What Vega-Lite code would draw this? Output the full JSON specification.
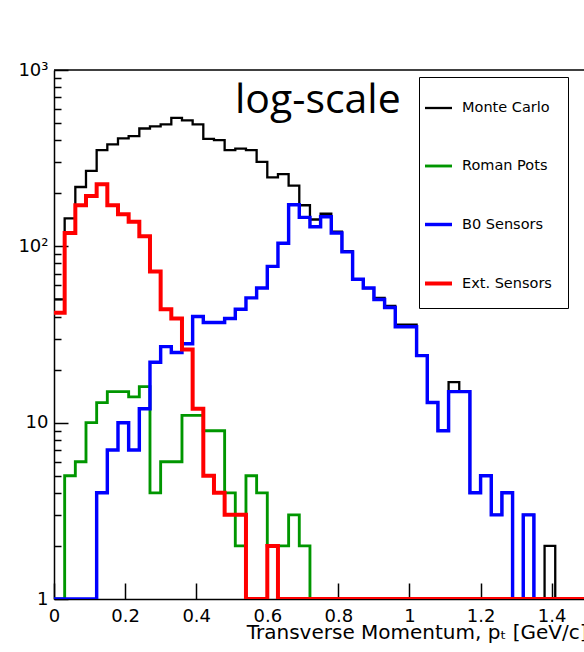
{
  "$schema": "https://vega.github.io/schema/vega-lite/v6.json",
  "autosize": {"type": "none"},
  "padding": {"left": 54, "top": 70, "right": 0, "bottom": 53},
  "width": 530,
  "height": 529,
  "background": "white",
  "config": {"view": {"stroke": null}, "font": "DejaVu Sans"},
  "datasets": {
    "hist": [
      {"s":"Monte Carlo","x":0,"n":50},{"s":"Monte Carlo","x":0.03,"n":144},{"s":"Monte Carlo","x":0.06,"n":217},{"s":"Monte Carlo","x":0.09,"n":268},{"s":"Monte Carlo","x":0.12,"n":351},{"s":"Monte Carlo","x":0.15,"n":379},{"s":"Monte Carlo","x":0.18,"n":409},{"s":"Monte Carlo","x":0.21,"n":422},{"s":"Monte Carlo","x":0.24,"n":466},{"s":"Monte Carlo","x":0.27,"n":479},
      {"s":"Monte Carlo","x":0.3,"n":492},{"s":"Monte Carlo","x":0.33,"n":535},{"s":"Monte Carlo","x":0.36,"n":518},{"s":"Monte Carlo","x":0.39,"n":492},{"s":"Monte Carlo","x":0.42,"n":407},{"s":"Monte Carlo","x":0.45,"n":400},{"s":"Monte Carlo","x":0.48,"n":351},{"s":"Monte Carlo","x":0.51,"n":358},{"s":"Monte Carlo","x":0.54,"n":351},{"s":"Monte Carlo","x":0.57,"n":301},
      {"s":"Monte Carlo","x":0.6,"n":246},{"s":"Monte Carlo","x":0.63,"n":257},{"s":"Monte Carlo","x":0.66,"n":221},{"s":"Monte Carlo","x":0.69,"n":171},{"s":"Monte Carlo","x":0.72,"n":142},{"s":"Monte Carlo","x":0.75,"n":153},{"s":"Monte Carlo","x":0.78,"n":121},{"s":"Monte Carlo","x":0.81,"n":94},{"s":"Monte Carlo","x":0.84,"n":65},{"s":"Monte Carlo","x":0.87,"n":58},
      {"s":"Monte Carlo","x":0.9,"n":51},{"s":"Monte Carlo","x":0.93,"n":46},{"s":"Monte Carlo","x":0.96,"n":36},{"s":"Monte Carlo","x":0.99,"n":36},{"s":"Monte Carlo","x":1.02,"n":24},{"s":"Monte Carlo","x":1.05,"n":13},{"s":"Monte Carlo","x":1.08,"n":9},{"s":"Monte Carlo","x":1.11,"n":17},{"s":"Monte Carlo","x":1.14,"n":15},{"s":"Monte Carlo","x":1.17,"n":4},
      {"s":"Monte Carlo","x":1.2,"n":5},{"s":"Monte Carlo","x":1.23,"n":3},{"s":"Monte Carlo","x":1.26,"n":4},{"s":"Monte Carlo","x":1.29,"n":1},{"s":"Monte Carlo","x":1.32,"n":3},{"s":"Monte Carlo","x":1.35,"n":1},{"s":"Monte Carlo","x":1.38,"n":2},{"s":"Monte Carlo","x":1.41,"n":1},{"s":"Monte Carlo","x":1.44,"n":1},{"s":"Monte Carlo","x":1.47,"n":1},{"s":"Monte Carlo","x":1.5,"n":1},

      {"s":"Roman Pots","x":0,"n":1},{"s":"Roman Pots","x":0.03,"n":5},{"s":"Roman Pots","x":0.06,"n":6},{"s":"Roman Pots","x":0.09,"n":10},{"s":"Roman Pots","x":0.12,"n":13},{"s":"Roman Pots","x":0.15,"n":15},{"s":"Roman Pots","x":0.18,"n":15},{"s":"Roman Pots","x":0.21,"n":14},{"s":"Roman Pots","x":0.24,"n":16},{"s":"Roman Pots","x":0.27,"n":4},
      {"s":"Roman Pots","x":0.3,"n":6},{"s":"Roman Pots","x":0.33,"n":6},{"s":"Roman Pots","x":0.36,"n":11},{"s":"Roman Pots","x":0.39,"n":11},{"s":"Roman Pots","x":0.42,"n":9},{"s":"Roman Pots","x":0.45,"n":9},{"s":"Roman Pots","x":0.48,"n":4},{"s":"Roman Pots","x":0.51,"n":2},{"s":"Roman Pots","x":0.54,"n":5},{"s":"Roman Pots","x":0.57,"n":4},
      {"s":"Roman Pots","x":0.6,"n":2},{"s":"Roman Pots","x":0.63,"n":2},{"s":"Roman Pots","x":0.66,"n":3},{"s":"Roman Pots","x":0.69,"n":2},{"s":"Roman Pots","x":0.72,"n":1},{"s":"Roman Pots","x":0.75,"n":1},{"s":"Roman Pots","x":0.78,"n":1},{"s":"Roman Pots","x":0.81,"n":1},{"s":"Roman Pots","x":0.84,"n":1},{"s":"Roman Pots","x":0.87,"n":1},
      {"s":"Roman Pots","x":0.9,"n":1},{"s":"Roman Pots","x":0.93,"n":1},{"s":"Roman Pots","x":0.96,"n":1},{"s":"Roman Pots","x":0.99,"n":1},{"s":"Roman Pots","x":1.02,"n":1},{"s":"Roman Pots","x":1.05,"n":1},{"s":"Roman Pots","x":1.08,"n":1},{"s":"Roman Pots","x":1.11,"n":1},{"s":"Roman Pots","x":1.14,"n":1},{"s":"Roman Pots","x":1.17,"n":1},
      {"s":"Roman Pots","x":1.2,"n":1},{"s":"Roman Pots","x":1.23,"n":1},{"s":"Roman Pots","x":1.26,"n":1},{"s":"Roman Pots","x":1.29,"n":1},{"s":"Roman Pots","x":1.32,"n":1},{"s":"Roman Pots","x":1.35,"n":1},{"s":"Roman Pots","x":1.38,"n":1},{"s":"Roman Pots","x":1.41,"n":1},{"s":"Roman Pots","x":1.44,"n":1},{"s":"Roman Pots","x":1.47,"n":1},{"s":"Roman Pots","x":1.5,"n":1},

      {"s":"B0 Sensors","x":0,"n":1},{"s":"B0 Sensors","x":0.03,"n":1},{"s":"B0 Sensors","x":0.06,"n":1},{"s":"B0 Sensors","x":0.09,"n":1},{"s":"B0 Sensors","x":0.12,"n":4},{"s":"B0 Sensors","x":0.15,"n":7},{"s":"B0 Sensors","x":0.18,"n":10},{"s":"B0 Sensors","x":0.21,"n":7},{"s":"B0 Sensors","x":0.24,"n":12},{"s":"B0 Sensors","x":0.27,"n":22},
      {"s":"B0 Sensors","x":0.3,"n":27},{"s":"B0 Sensors","x":0.33,"n":25},{"s":"B0 Sensors","x":0.36,"n":28},{"s":"B0 Sensors","x":0.39,"n":40},{"s":"B0 Sensors","x":0.42,"n":37},{"s":"B0 Sensors","x":0.45,"n":37},{"s":"B0 Sensors","x":0.48,"n":39},{"s":"B0 Sensors","x":0.51,"n":44},{"s":"B0 Sensors","x":0.54,"n":51},{"s":"B0 Sensors","x":0.57,"n":58},
      {"s":"B0 Sensors","x":0.6,"n":77},{"s":"B0 Sensors","x":0.63,"n":104},{"s":"B0 Sensors","x":0.66,"n":172},{"s":"B0 Sensors","x":0.69,"n":146},{"s":"B0 Sensors","x":0.72,"n":129},{"s":"B0 Sensors","x":0.75,"n":147},{"s":"B0 Sensors","x":0.78,"n":119},{"s":"B0 Sensors","x":0.81,"n":93},{"s":"B0 Sensors","x":0.84,"n":65},{"s":"B0 Sensors","x":0.87,"n":58},
      {"s":"B0 Sensors","x":0.9,"n":50},{"s":"B0 Sensors","x":0.93,"n":45},{"s":"B0 Sensors","x":0.96,"n":35},{"s":"B0 Sensors","x":0.99,"n":35},{"s":"B0 Sensors","x":1.02,"n":24},{"s":"B0 Sensors","x":1.05,"n":13},{"s":"B0 Sensors","x":1.08,"n":9},{"s":"B0 Sensors","x":1.11,"n":15},{"s":"B0 Sensors","x":1.14,"n":15},{"s":"B0 Sensors","x":1.17,"n":4},
      {"s":"B0 Sensors","x":1.2,"n":5},{"s":"B0 Sensors","x":1.23,"n":3},{"s":"B0 Sensors","x":1.26,"n":4},{"s":"B0 Sensors","x":1.29,"n":1},{"s":"B0 Sensors","x":1.32,"n":3},{"s":"B0 Sensors","x":1.35,"n":1},{"s":"B0 Sensors","x":1.38,"n":1},{"s":"B0 Sensors","x":1.41,"n":1},{"s":"B0 Sensors","x":1.44,"n":1},{"s":"B0 Sensors","x":1.47,"n":1},{"s":"B0 Sensors","x":1.5,"n":1},

      {"s":"Ext. Sensors","x":0,"n":42},{"s":"Ext. Sensors","x":0.03,"n":119},{"s":"Ext. Sensors","x":0.06,"n":171},{"s":"Ext. Sensors","x":0.09,"n":193},{"s":"Ext. Sensors","x":0.12,"n":225},{"s":"Ext. Sensors","x":0.15,"n":171},{"s":"Ext. Sensors","x":0.18,"n":152},{"s":"Ext. Sensors","x":0.21,"n":138},{"s":"Ext. Sensors","x":0.24,"n":114},{"s":"Ext. Sensors","x":0.27,"n":72},
      {"s":"Ext. Sensors","x":0.3,"n":44},{"s":"Ext. Sensors","x":0.33,"n":39},{"s":"Ext. Sensors","x":0.36,"n":26},{"s":"Ext. Sensors","x":0.39,"n":12},{"s":"Ext. Sensors","x":0.42,"n":5},{"s":"Ext. Sensors","x":0.45,"n":4},{"s":"Ext. Sensors","x":0.48,"n":3},{"s":"Ext. Sensors","x":0.51,"n":3},{"s":"Ext. Sensors","x":0.54,"n":1},{"s":"Ext. Sensors","x":0.57,"n":1},
      {"s":"Ext. Sensors","x":0.6,"n":2},{"s":"Ext. Sensors","x":0.63,"n":1},{"s":"Ext. Sensors","x":0.66,"n":1},{"s":"Ext. Sensors","x":0.69,"n":1},{"s":"Ext. Sensors","x":0.72,"n":1},{"s":"Ext. Sensors","x":0.75,"n":1},{"s":"Ext. Sensors","x":0.78,"n":1},{"s":"Ext. Sensors","x":0.81,"n":1},{"s":"Ext. Sensors","x":0.84,"n":1},{"s":"Ext. Sensors","x":0.87,"n":1},
      {"s":"Ext. Sensors","x":0.9,"n":1},{"s":"Ext. Sensors","x":0.93,"n":1},{"s":"Ext. Sensors","x":0.96,"n":1},{"s":"Ext. Sensors","x":0.99,"n":1},{"s":"Ext. Sensors","x":1.02,"n":1},{"s":"Ext. Sensors","x":1.05,"n":1},{"s":"Ext. Sensors","x":1.08,"n":1},{"s":"Ext. Sensors","x":1.11,"n":1},{"s":"Ext. Sensors","x":1.14,"n":1},{"s":"Ext. Sensors","x":1.17,"n":1},
      {"s":"Ext. Sensors","x":1.2,"n":1},{"s":"Ext. Sensors","x":1.23,"n":1},{"s":"Ext. Sensors","x":1.26,"n":1},{"s":"Ext. Sensors","x":1.29,"n":1},{"s":"Ext. Sensors","x":1.32,"n":1},{"s":"Ext. Sensors","x":1.35,"n":1},{"s":"Ext. Sensors","x":1.38,"n":1},{"s":"Ext. Sensors","x":1.41,"n":1},{"s":"Ext. Sensors","x":1.44,"n":1},{"s":"Ext. Sensors","x":1.47,"n":1},{"s":"Ext. Sensors","x":1.5,"n":1}
    ],
    "note": [{"x": 0.509, "y": 574, "label": "log-scale"}]
  },
  "layer": [
    {
      "data": {"name": "hist"},
      "mark": {"type": "line", "interpolate": "step-after", "clip": true},
      "encoding": {
        "x": {
          "field": "x", "type": "quantitative",
          "scale": {"domain": [0, 1.4909], "nice": false, "zero": false},
          "axis": {
            "values": [0,0.05,0.1,0.15,0.2,0.25,0.3,0.35,0.4,0.45,0.5,0.55,0.6,0.65,0.7,0.75,0.8,0.85,0.9,0.95,1,1.05,1.1,1.15,1.2,1.25,1.3,1.35,1.4,1.45],
            "format": "~g",
            "labelExpr": "abs(datum.value/0.2 - round(datum.value/0.2)) < 1e-6 ? datum.label : ''",
            "tickSize": {"condition": {"test": "abs(datum.value/0.2 - round(datum.value/0.2)) < 1e-6", "value": -16}, "value": -8},
            "tickColor": "black", "tickWidth": 1.5,
            "domainColor": "black", "domainWidth": 1.5,
            "labelFont": "DejaVu Sans", "labelFontSize": 18, "labelColor": "black",
            "labelPadding": 24, "labelOverlap": false, "labelFlush": false, "labelBound": false,
            "grid": false,
            "title": "Transverse Momentum, pₜ [GeV/c]",
            "titleFont": "DejaVu Sans", "titleFontSize": 20, "titleFontWeight": "normal", "titleColor": "black",
            "titleX": 533, "titleY": 39, "titleAlign": "right", "titleBaseline": "alphabetic", "titleAnchor": null
          }
        },
        "y": {
          "field": "n", "type": "quantitative",
          "scale": {"type": "log", "domain": [1, 1000], "nice": false},
          "axis": {
            "values": [1,2,3,4,5,6,7,8,9,10,20,30,40,50,60,70,80,90,100,200,300,400,500,600,700,800,900,1000],
            "labelExpr": "datum.value == 1000 ? '10³' : datum.value == 100 ? '10²' : datum.value == 10 ? '10' : datum.value == 1 ? '1' : ''",
            "tickSize": {"condition": {"test": "datum.value == 1 || datum.value == 10 || datum.value == 100 || datum.value == 1000", "value": -14}, "value": -7},
            "tickColor": "black", "tickWidth": 1.5,
            "domainColor": "black", "domainWidth": 1.5,
            "labelFont": "DejaVu Sans", "labelFontSize": 18, "labelColor": "black",
            "labelPadding": 20, "labelOverlap": false, "labelFlush": false, "labelBound": false,
            "grid": false, "title": null
          }
        },
        "color": {
          "field": "s", "type": "nominal",
          "scale": {"domain": ["Monte Carlo", "Roman Pots", "B0 Sensors", "Ext. Sensors"], "range": ["#000000", "#009600", "#0000ff", "#ff0000"]},
          "legend": {
            "orient": "none", "legendX": 365, "legendY": 7,
            "title": null,
            "strokeColor": "black", "fillColor": "white", "padding": 16,
            "symbolType": "stroke", "symbolSize": 729, "symbolOffset": -12,
            "labelFont": "DejaVu Sans", "labelFontSize": 14.5, "labelColor": "black", "labelOffset": 8, "labelLimit": 400,
            "rowPadding": 36,
            "labelExpr": "datum.label + '          '"
          }
        },
        "strokeWidth": {
          "field": "s", "type": "nominal",
          "scale": {"domain": ["Monte Carlo", "Roman Pots", "B0 Sensors", "Ext. Sensors"], "range": [2.3, 4, 6, 2.6]},
          "legend": null
        }
      }
    },
    {
      "data": {"name": "note"},
      "mark": {"type": "rule", "color": "black", "strokeWidth": 1.5},
      "encoding": {"y": {"datum": 1000}}
    },
    {
      "data": {"name": "note"},
      "mark": {"type": "text", "font": "Open Sans", "fontSize": 41, "align": "left", "baseline": "alphabetic", "color": "black"},
      "encoding": {
        "x": {"field": "x", "type": "quantitative"},
        "y": {"field": "y", "type": "quantitative"},
        "text": {"field": "label"}
      }
    }
  ]
}
